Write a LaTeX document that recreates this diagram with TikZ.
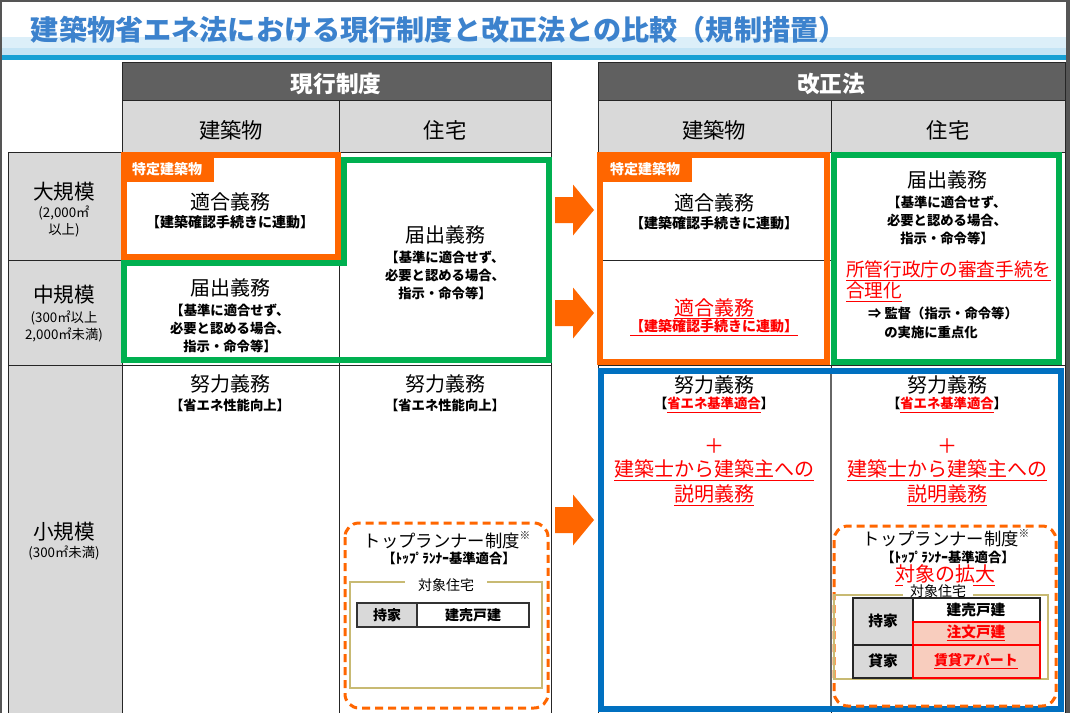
\documentclass[tikz,border=0pt]{standalone}
\usepackage{fontspec}
\setmainfont{Noto Sans CJK JP}
\newcommand\fsz[2]{\fontsize{#1pt}{#2pt}\selectfont}
\newcommand\ulr[1]{\underline{#1}}
\newcommand\kome{\raisebox{0.45em}{\fsz{8}{8}※}}
\definecolor{ttlblue}{RGB}{60,130,205}
\definecolor{bandA}{RGB}{220,239,249}
\definecolor{bandB}{RGB}{196,228,245}
\definecolor{bandLine}{RGB}{22,160,212}
\definecolor{hdark}{RGB}{96,96,96}
\definecolor{lgray}{RGB}{217,217,217}
\definecolor{orng}{RGB}{255,102,0}
\definecolor{grn}{RGB}{0,176,80}
\definecolor{blu}{RGB}{0,112,192}
\definecolor{rd}{RGB}{255,0,0}
\definecolor{pinkc}{RGB}{248,205,190}
\definecolor{khaki}{RGB}{200,186,115}
\definecolor{framec}{RGB}{85,85,85}
\tikzset{
  bigarrow/.pic={\fill[orng] (0,-13) -- (18,-13) -- (18,-25.5) -- (39,0) -- (18,25.5) -- (18,13) -- (0,13) -- cycle;},
}
\begin{document}
\begin{tikzpicture}[x=0.75pt,y=-0.75pt,
  every node/.style={inner sep=0pt,outer sep=0pt,align=center},
  grid/.style={draw=black!85,line width=0.75pt},
  hdr/.style={font=\bfseries\fsz{17}{20},text=white},
  sub/.style={font=\fsz{16}{19}},
  lbl/.style={font=\fsz{15.5}{18}},
  lblsm/.style={font=\fsz{10}{12.75}},
  big/.style={font=\fsz{15}{18}},
  brk/.style={font=\bfseries\fsz{10.5}{13.5}},
  brkm/.style={font=\bfseries\fsz{10}{13.5}},
  redbig/.style={font=\fsz{15}{19},text=rd},
  tab/.style={font=\bfseries\fsz{10.5}{12},text=white},
  tr/.style={font=\fsz{13}{15}},
  small/.style={font=\fsz{10.5}{12}},
  thick6/.style={line width=4.5pt},
  dashbox/.style={draw=orng,line width=2.25pt,dash pattern=on 6pt off 3.75pt,rounded corners=10.5pt},
  khakibox/.style={draw=khaki,line width=1.1pt},
]
\useasboundingbox (0,0) rectangle (1070,713);
% frame and background
\fill[framec] (0,0) rectangle (1070,713);
\fill[white] (2,2) rectangle (1066,713);
% title band
\fill[bandA] (2,37) rectangle (1066,48);
\fill[bandB] (2,48) rectangle (1066,55);
\fill[bandLine] (2,55) rectangle (1066,60);
\node[anchor=west,font=\bfseries\fsz{21.1}{24},text=ttlblue] (title) at (31,30) {建築物省エネ法における現行制度と改正法との比較（規制措置）};

% ===== headers =====
\fill[hdark] (122,63) rectangle (551,101);
\fill[hdark] (598,63) rectangle (1065,101);
\fill[lgray] (122,101) rectangle (551,153);
\fill[lgray] (598,101) rectangle (1065,153);
\fill[lgray] (8,153) rectangle (122,713);
\node[hdr] (hcur) at (336,84) {現行制度};
\node[hdr] (hnew) at (831,84) {改正法};
\node[sub] (s1) at (231,130) {建築物};
\node[sub] (s2) at (445,130) {住宅};
\node[sub] (s3) at (714,130) {建築物};
\node[sub] (s4) at (948,130) {住宅};

% ===== grid lines =====
\draw[grid] (122,63) rectangle (551,713);
\draw[grid] (122,101) -- (551,101);
\draw[grid] (339,101) -- (339,713);
\draw[grid] (8,153) -- (551,153);
\draw[grid] (8,153) -- (8,713);
\draw[grid] (8,260) -- (122,260);
\draw[grid] (8,365) -- (551,365);
\draw[grid] (598,63) rectangle (1065,713);
\draw[grid] (598,101) -- (1065,101);
\draw[grid] (831,101) -- (831,713);
\draw[grid] (598,153) -- (1065,153);
\draw[grid] (598,260) -- (831,260);
\draw[grid] (598,365) -- (1065,365);

% ===== row labels =====
\node[lbl] (dai) at (64,192) {大規模};
\node[lblsm] (daisub) at (64,221.5) {(2,000㎡\\以上)};
\node[lbl] (chu) at (64,295) {中規模};
\node[lblsm] (chusub) at (64,326.5) {(300㎡以上\\2,000㎡未満)};
\node[lbl] (sho) at (64,532) {小規模};
\node[lblsm] (shosub) at (64,553) {(300㎡未満)};

% ===== left colored frames =====
\draw[orng,thick6] (124,155) rectangle (338,257);
\draw[grn,thick6] (344,160) -- (549,160) -- (549,360) -- (124,360) -- (124,263) -- (344,263) -- cycle;
\fill[orng] (121,153) rectangle (214,182);
\node[tab] (tabL) at (167,169) {特定建築物};

% left texts
\node[big] (l1) at (230,202) {適合義務};
\node[brk] (l1s) at (230,222) {【建築確認手続きに連動】};
\node[big] (l2) at (445,235) {届出義務};
\node[brkm] (l2s) at (445,275) {【基準に適合せず、\\必要と認める場合、\\指示・命令等】};
\node[big] (l3) at (230,288) {届出義務};
\node[brkm] (l3s) at (230,328.5) {【基準に適合せず、\\必要と認める場合、\\指示・命令等】};
\node[big] (l4) at (230,384) {努力義務};
\node[brkm] (l4s) at (230,405) {【省エネ性能向上】};
\node[big] (l5) at (445,384) {努力義務};
\node[brkm] (l5s) at (445,405) {【省エネ性能向上】};

% left top runner box
\draw[dashbox] (345,523) rectangle (548,708);
\node[tr] (trL) at (447,540) {トップランナー制度\kome};
\node[brkm] (trLs) at (449,558) {【ﾄｯﾌﾟﾗﾝﾅｰ基準適合】};
\draw[khakibox] (350,582) rectangle (542,688);
\node[small,fill=white,inner xsep=10pt,inner ysep=1pt] (tjL) at (446,585) {対象住宅};
\fill[lgray] (357,603) rectangle (417,627);
\draw[draw=black!80,line width=1.1pt] (357,603) rectangle (529,627);
\draw[draw=black!80,line width=0.8pt] (417,603) -- (417,627);
\node[small,font=\bfseries\fsz{10.5}{12}] (mL) at (387,615) {持家};
\node[small,font=\bfseries\fsz{10.5}{12}] (tL) at (473,615) {建売戸建};

% ===== arrows =====
\pic at (555,210) {bigarrow};
\pic at (555,313) {bigarrow};
\pic at (555,520) {bigarrow};

% ===== right colored frames =====
\draw[orng,thick6] (600,155) rectangle (827,362);
\draw[grn,thick6] (834,155) rectangle (1059,362);
\draw[blu,line width=5.2pt] (601,371) rectangle (1061,709);
\draw[draw=black!60,line width=0.9pt] (831,374) -- (831,706);
\fill[orng] (598,153) rectangle (692,182);
\node[tab] (tabR) at (645,169) {特定建築物};

% right texts
\node[big] (r1) at (714,203) {適合義務};
\node[brk] (r1s) at (714,223) {【建築確認手続きに連動】};
\node[big,text=rd] (r2) at (714,309) {\ulr{適合義務}};
\node[brk,text=rd] (r2s) at (714,328) {\ulr{【建築確認手続きに連動】}};
\node[big] (r3) at (947,180) {届出義務};
\node[brkm] (r3s) at (947,220) {【基準に適合せず、\\必要と認める場合、\\指示・命令等】};
\node[anchor=west,font=\fsz{14}{17},text=rd] (r4) at (846,271) {\ulr{所管行政庁の審査手続を}};
\node[anchor=west,font=\fsz{14}{17},text=rd] (r4b) at (846,292) {\ulr{合理化}};
\node[brkm] (r5) at (943,313) {⇒ 監督（指示・命令等）};
\node[brkm] (r5b) at (931,332) {の実施に重点化};

\node[big] (r6) at (714,385) {努力義務};
\node[brkm] (r6s) at (714,405) {【\textcolor{rd}{\ulr{省エネ基準適合}}】};
\node[redbig] (r6p) at (714,446) {＋};
\node[redbig] (r6a) at (714,470) {\ulr{建築士から建築主への}};
\node[redbig] (r6b) at (714,495) {\ulr{説明義務}};

\node[big] (r7) at (947,385) {努力義務};
\node[brkm] (r7s) at (947,405) {【\textcolor{rd}{\ulr{省エネ基準適合}}】};
\node[redbig] (r7p) at (947,446) {＋};
\node[redbig] (r7a) at (947,470) {\ulr{建築士から建築主への}};
\node[redbig] (r7b) at (947,495) {\ulr{説明義務}};

% right top runner box
\draw[dashbox] (834,526) rectangle (1056,706);
\node[tr] (trR) at (946,538) {トップランナー制度\kome};
\node[brkm] (trRs) at (948,557) {【ﾄｯﾌﾟﾗﾝﾅｰ基準適合】};
\node[redbig] (kakudai) at (945,575) {\ulr{対象の拡大}};
\draw[khakibox] (834,595) rectangle (1048,679);
\node[small,fill=white,inner xsep=5pt,inner ysep=0pt] (tjR) at (938,591) {対象住宅};
\fill[lgray] (853,598) rectangle (913,678);
\fill[pinkc] (913,622) rectangle (1040,678);
\draw[draw=black!85,line width=1pt] (853,598) rectangle (1040,678);
\draw[draw=black!85,line width=1pt] (913,598) -- (913,678);
\draw[draw=black!85,line width=1pt] (853,645) -- (1040,645);
\draw[draw=rd,line width=0.8pt] (913,622) rectangle (1040,678);
\draw[draw=rd,line width=0.8pt] (913,645) -- (1040,645);
\node[small,font=\bfseries\fsz{11}{13}] (mR) at (883,621) {持家};
\node[small,font=\bfseries\fsz{11}{13}] (kR) at (883,661) {貸家};
\node[small,font=\bfseries\fsz{11}{13}] (t1) at (976,610) {建売戸建};
\node[small,font=\bfseries\fsz{11}{13},text=rd] (t2) at (976,633) {\ulr{注文戸建}};
\node[small,font=\bfseries\fsz{10.5}{13},text=rd] (t3) at (976,661) {\ulr{賃貸アパート}};
\end{tikzpicture}
\end{document}
